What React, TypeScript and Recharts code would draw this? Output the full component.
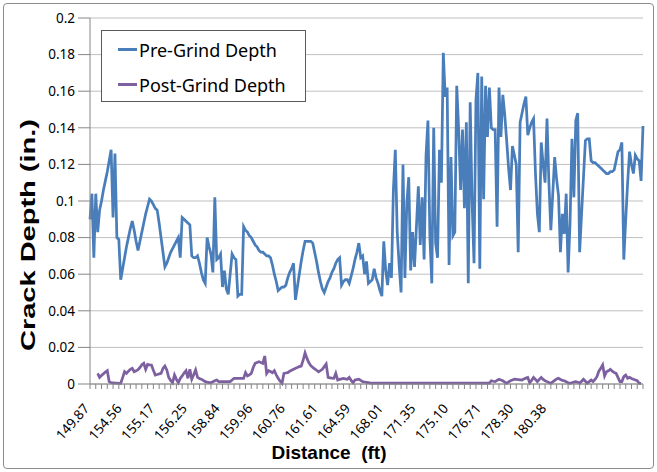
import React from 'react';
import { LineChart, Line, XAxis, YAxis, CartesianGrid, Legend } from 'recharts';

// crack depth readings (in.), one per measured point along the slab
const preGrind = [
  0.090, 0.104, 0.069, 0.104, 0.083, 0.095, 0.100, 0.106, 0.111, 0.116,
  0.122, 0.128, 0.091, 0.126, 0.080, 0.079, 0.057, 0.063, 0.069, 0.075,
  0.080, 0.085, 0.089, 0.084, 0.078, 0.073, 0.078, 0.083, 0.088, 0.093,
  0.097, 0.101, 0.100, 0.098, 0.096, 0.095, 0.088, 0.080, 0.072, 0.064,
  0.066, 0.069, 0.072, 0.074, 0.076, 0.078, 0.080, 0.069, 0.091, 0.090,
  0.089, 0.088, 0.087, 0.070, 0.069, 0.069, 0.070, 0.066, 0.061, 0.057,
  0.055, 0.080, 0.075, 0.071, 0.061, 0.102, 0.068, 0.069, 0.071, 0.053,
  0.062, 0.052, 0.049, 0.060, 0.071, 0.069, 0.068, 0.048, 0.049, 0.049,
  0.086, 0.084, 0.083, 0.081, 0.080, 0.078, 0.076, 0.075, 0.073, 0.072,
  0.072, 0.071, 0.070, 0.070, 0.069, 0.065, 0.060, 0.056, 0.051, 0.052,
  0.053, 0.053, 0.054, 0.058, 0.061, 0.063, 0.066, 0.046, 0.053, 0.060,
  0.067, 0.073, 0.078, 0.078, 0.078, 0.078, 0.077, 0.072, 0.067, 0.061,
  0.056, 0.052, 0.050, 0.053, 0.056, 0.058, 0.061, 0.063, 0.066, 0.068,
  0.069, 0.054, 0.056, 0.057, 0.057, 0.055, 0.059, 0.063, 0.068, 0.072,
  0.077, 0.069, 0.070, 0.060, 0.067, 0.055, 0.056, 0.057, 0.063, 0.058,
  0.055, 0.051, 0.048, 0.078, 0.062, 0.054, 0.066, 0.058, 0.106, 0.128,
  0.083, 0.065, 0.050, 0.120, 0.058, 0.099, 0.113, 0.062, 0.083, 0.064,
  0.086, 0.108, 0.076, 0.102, 0.068, 0.125, 0.144, 0.081, 0.055, 0.140,
  0.077, 0.069, 0.128, 0.110, 0.181, 0.157, 0.162, 0.065, 0.124, 0.081,
  0.083, 0.163, 0.139, 0.106, 0.139, 0.096, 0.143, 0.055, 0.154, 0.099,
  0.066, 0.155, 0.170, 0.063, 0.168, 0.101, 0.163, 0.135, 0.162, 0.140,
  0.139, 0.139, 0.086, 0.162, 0.135, 0.158, 0.147, 0.133, 0.118, 0.106,
  0.130, 0.125, 0.120, 0.072, 0.143, 0.148, 0.153, 0.157, 0.136, 0.140,
  0.143, 0.145, 0.115, 0.093, 0.083, 0.132, 0.120, 0.110, 0.145, 0.110,
  0.084, 0.104, 0.124, 0.112, 0.103, 0.072, 0.093, 0.082, 0.104, 0.061,
  0.088, 0.134, 0.102, 0.144, 0.148, 0.072, 0.093, 0.113, 0.133, 0.134,
  0.134, 0.122, 0.121, 0.121, 0.120, 0.119, 0.118, 0.117, 0.116, 0.115,
  0.115, 0.116, 0.116, 0.117, 0.122, 0.127, 0.128, 0.132, 0.068, 0.090,
  0.110, 0.127, 0.120, 0.115, 0.125, 0.123, 0.122, 0.111, 0.141,
];

const postGrind = [
  null, null, null, null, 0.0058, 0.0036, 0.0046, 0.0056, 0.0065, 0.0073,
  0.0013, 0.0007, 0.0006, 0.0005, 0.0005, 0.0004, 0.0004, 0.0035, 0.0067, 0.0058,
  0.0070, 0.0080, 0.0086, 0.0067, 0.0072, 0.0078, 0.0090, 0.0105, 0.0113, 0.0080,
  0.0107, 0.0105, 0.0104, 0.0075, 0.0049, 0.0052, 0.0055, 0.0058, 0.0085, 0.0098,
  0.0077, 0.0036, 0.0020, 0.0007, 0.0049, 0.0025, 0.0007, 0.0030, 0.0044, 0.0060,
  0.0073, 0.0031, 0.0080, 0.0026, 0.0050, 0.0077, 0.0036, 0.0030, 0.0026, 0.0020,
  0.0013, 0.0010, 0.0008, 0.0007, 0.0012, 0.0018, 0.0022, 0.0013, 0.0013, 0.0013,
  0.0013, 0.0013, 0.0013, 0.0013, 0.0022, 0.0031, 0.0031, 0.0031, 0.0031, 0.0031,
  0.0031, 0.0062, 0.0044, 0.0050, 0.0058, 0.0090, 0.0113, 0.0118, 0.0122, 0.0118,
  0.0113, 0.0153, 0.0058, 0.0073, 0.0068, 0.0062, 0.0073, 0.0050, 0.0031, 0.0015,
  0.0004, 0.0058, 0.0060, 0.0062, 0.0070, 0.0075, 0.0080, 0.0086, 0.0090, 0.0095,
  0.0098, 0.0130, 0.0170, 0.0140, 0.0116, 0.0100, 0.0091, 0.0083, 0.0075, 0.0067,
  0.0073, 0.0080, 0.0095, 0.0109, 0.0036, 0.0034, 0.0032, 0.0031, 0.0058, 0.0022,
  0.0025, 0.0028, 0.0031, 0.0028, 0.0026, 0.0036, 0.0020, 0.0007, 0.0022, 0.0024,
  0.0026, 0.0020, 0.0013, 0.0011, 0.0009, 0.0007, 0.0005, 0.0005, 0.0005, 0.0005,
  0.0005, 0.0005, 0.0005, 0.0005, 0.0005, 0.0005, 0.0005, 0.0005, 0.0005, 0.0005,
  0.0005, 0.0005, 0.0005, 0.0005, 0.0005, 0.0005, 0.0005, 0.0005, 0.0005, 0.0005,
  0.0005, 0.0005, 0.0005, 0.0005, 0.0005, 0.0005, 0.0005, 0.0005, 0.0005, 0.0005,
  0.0005, 0.0005, 0.0005, 0.0005, 0.0005, 0.0005, 0.0005, 0.0005, 0.0005, 0.0005,
  0.0005, 0.0005, 0.0005, 0.0005, 0.0005, 0.0005, 0.0005, 0.0005, 0.0005, 0.0005,
  0.0005, 0.0005, 0.0005, 0.0005, 0.0005, 0.0005, 0.0005, 0.0005, 0.0005, 0.0018,
  0.0015, 0.0013, 0.0020, 0.0026, 0.0022, 0.0018, 0.0010, 0.0004, 0.0012, 0.0018,
  0.0022, 0.0026, 0.0025, 0.0024, 0.0023, 0.0022, 0.0028, 0.0032, 0.0036, 0.0007,
  0.0020, 0.0036, 0.0025, 0.0013, 0.0025, 0.0036, 0.0025, 0.0018, 0.0013, 0.0008,
  0.0004, 0.0012, 0.0020, 0.0027, 0.0031, 0.0025, 0.0020, 0.0018, 0.0012, 0.0007,
  0.0004, 0.0007, 0.0010, 0.0013, 0.0010, 0.0004, 0.0015, 0.0026, 0.0015, 0.0004,
  0.0013, 0.0022, 0.0013, 0.0025, 0.0040, 0.0070, 0.0086, 0.0104, 0.0044, 0.0067,
  0.0072, 0.0080, 0.0070, 0.0062, 0.0058, 0.0035, 0.0013, 0.0013, 0.0040, 0.0049,
  0.0031, 0.0036, 0.0030, 0.0026, 0.0022, 0.0018, 0.0004, 0.0003, null,
];

// distance labels shown every 17th point
const distanceLabels = [
  '149.87', '154.56', '155.17', '156.25', '158.84', '159.96', '160.76', '161.61',
  '164.59', '168.01', '171.35', '175.10', '176.71', '178.30', '180.38',
];

const depthTicks = [0, 0.02, 0.04, 0.06, 0.08, 0.1, 0.12, 0.14, 0.16, 0.18, 0.2];

const seriesOrder = ['Pre-Grind Depth', 'Post-Grind Depth'];

const LABEL_EVERY = 17;
const TICK_EVERY = 3;

const data = preGrind.map((v, i) => ({ idx: i, pre: v, post: postGrind[i] ?? null }));

const FONT = '"Noto Sans", sans-serif';
const TITLE_FONT = '"Liberation Sans", Arial, sans-serif';

const DistanceTick = (props: any) => {
  const { x, y, payload } = props;
  const i = payload.value as number;
  const label = i % LABEL_EVERY === 0 ? distanceLabels[i / LABEL_EVERY] : undefined;
  const ax = x;
  const ay = y + 25;
  return (
    <g>
      {i % TICK_EVERY === 0 && <line x1={x} x2={x} y1={y} y2={y + 5} stroke="#868686" />}
      {label && (
        <text
          x={ax}
          y={ay}
          transform={`rotate(-49 ${ax} ${ay})`}
          textAnchor="end"
          fontSize={13.5}
          fontFamily={FONT}
          fill="#000"
        >
          {label}
        </text>
      )}
    </g>
  );
};

const LegendBox = (props: any) => {
  const items = [...(props.payload || [])].sort(
    (a: any, b: any) => seriesOrder.indexOf(a.value) - seriesOrder.indexOf(b.value)
  );
  return (
    <div
      style={{
        border: '1px solid #595959',
        background: '#fff',
        width: 203,
        height: 69,
        paddingTop: 1,
        fontFamily: FONT,
        fontSize: 18,
        color: '#000',
      }}
    >
      {items.map((it: any) => (
        <div key={it.value} style={{ display: 'flex', alignItems: 'center', height: 35 }}>
          <span style={{ display: 'inline-block', width: 19, height: 3, background: it.color, marginLeft: 16, marginRight: 2 }} />
          <span>{it.value}</span>
        </div>
      ))}
    </div>
  );
};

export default function App() {
  return (
    <div style={{ position: 'absolute', left: 0, top: 0, width: 657, height: 472, background: '#fff' }}>
      <div
        style={{
          position: 'absolute',
          left: 3,
          top: 3,
          width: 649,
          height: 464,
          border: '1px solid #8c8c8c',
          borderRadius: 4,
        }}
      />
      <LineChart width={657} height={472} data={data} margin={{ top: 18, right: 14, bottom: 0, left: 0 }}>
        <CartesianGrid vertical={false} stroke="#bfbfbf" />
        <XAxis
          dataKey="idx"
          type="category"
          interval={0}
          height={88}
          tickSize={0}
          tickMargin={0}
          tickLine={false}
          axisLine={{ stroke: '#868686' }}
          tick={<DistanceTick />}
          label={() => (
            <text
              x={329}
              y={459}
              textAnchor="middle"
              fontFamily={TITLE_FONT}
              fontWeight="bold"
              fontSize={19}
              fill="#000"
              style={{ whiteSpace: 'pre' }}
            >
              {'Distance\u00a0 (ft)'}
            </text>
          )}
        />
        <YAxis
          domain={[0, 0.2]}
          ticks={depthTicks}
          width={90}
          tickSize={12}
          tickMargin={3}
          interval={0}
          tickFormatter={(v: number) => String(v)}
          tick={{ fontSize: 13.5, fill: '#000', fontFamily: FONT }}
          tickLine={{ stroke: '#868686' }}
          axisLine={{ stroke: '#868686' }}
          label={() => (
            <text
              x={27}
              y={235}
              transform="rotate(-90 27 235)"
              textAnchor="middle"
              dominantBaseline="central"
              fontFamily={TITLE_FONT}
              fontWeight="bold"
              fontSize={21}
              textLength={232}
              lengthAdjust="spacingAndGlyphs"
              fill="#000"
            >
              Crack Depth (in.)
            </text>
          )}
        />
        <Legend
          layout="vertical"
          align="center"
          verticalAlign="middle"
          wrapperStyle={{ position: 'absolute', left: 101, top: 30, width: 'auto', height: 'auto' }}
          content={<LegendBox />}
        />
        <Line
          type="linear"
          dataKey="pre"
          name="Pre-Grind Depth"
          stroke="#4a7ebb"
          strokeWidth={2.75}
          dot={false}
          isAnimationActive={false}
        />
        <Line
          type="linear"
          dataKey="post"
          name="Post-Grind Depth"
          stroke="#7d60a0"
          strokeWidth={2.75}
          dot={false}
          isAnimationActive={false}
        />
      </LineChart>
    </div>
  );
}
